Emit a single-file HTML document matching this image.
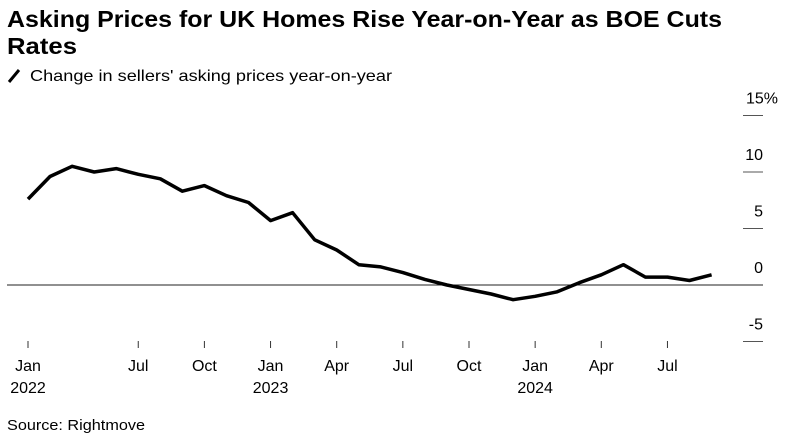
<!DOCTYPE html>
<html><head><meta charset="utf-8">
<style>
body{margin:0;width:795px;height:447px;background:#fff;font-family:"Liberation Sans",Arial,sans-serif;overflow:hidden}
svg{position:absolute;left:0;top:0}
</style></head>
<body>
<svg width="795" height="447">
<text x="7" y="27" font-size="23.5" font-weight="bold" fill="#000" textLength="715" lengthAdjust="spacingAndGlyphs">Asking Prices for UK Homes Rise Year-on-Year as BOE Cuts</text>
<text x="7" y="54" font-size="23.5" font-weight="bold" fill="#000" textLength="70" lengthAdjust="spacingAndGlyphs">Rates</text>
<line x1="9" y1="82" x2="19" y2="70" stroke="#000" stroke-width="3"/>
<text x="30" y="81" font-size="16" fill="#000" textLength="362" lengthAdjust="spacingAndGlyphs">Change in sellers' asking prices year-on-year</text>
<g id="yaxis"></g><g id="xaxis"></g>
<line x1="7" y1="285" x2="763" y2="285" stroke="#222" stroke-width="1"/>
<path id="series" fill="none" stroke="#000" stroke-width="3.5" stroke-linejoin="round"/>
<text x="7" y="430" font-size="15" fill="#000" textLength="138" lengthAdjust="spacingAndGlyphs">Source: Rightmove</text>
</svg>
<script>
const values=[7.6,9.6,10.5,10.0,10.3,9.8,9.4,8.3,8.8,7.9,7.3,5.7,6.4,4.0,3.1,1.8,1.6,1.1,0.5,0.0,-0.4,-0.8,-1.3,-1.0,-0.6,0.2,0.9,1.8,0.7,0.7,0.4,0.9];
const yTicks=[15,10,5,0,-5];
const xTickIdx=[0,5,8,11,14,17,20,23,26,29];
const xTickLabels=["Jan","Jul","Oct","Jan","Apr","Jul","Oct","Jan","Apr","Jul"];
const yearLabels=["2022","","","2023","","","","2024","",""];
const NS="http://www.w3.org/2000/svg";
const x=i=>28+i*22.05;
const y=v=>285-v*11.3;
const ya=document.getElementById('yaxis');
yTicks.forEach(t=>{
 const l=document.createElementNS(NS,'line');
 l.setAttribute('x1',743);l.setAttribute('x2',763);l.setAttribute('y1',y(t));l.setAttribute('y2',y(t));
 l.setAttribute('stroke','#555');l.setAttribute('stroke-width',1);
 
 
 ya.appendChild(l);
 const tx=document.createElementNS(NS,'text');
 tx.setAttribute('x',t===15?778:763);tx.setAttribute('y',y(t)-12);tx.setAttribute('text-anchor','end');
 tx.setAttribute('font-size','16');
 tx.textContent=t===15?'15%':String(t);
 
 
 ya.appendChild(tx);
});
const xa=document.getElementById('xaxis');
xTickIdx.forEach((i,k)=>{
 const l=document.createElementNS(NS,'line');
 l.setAttribute('x1',x(i));l.setAttribute('x2',x(i));l.setAttribute('y1',341);l.setAttribute('y2',348);
 l.setAttribute('stroke','#333');l.setAttribute('stroke-width',1);
 
 
 xa.appendChild(l);
 const tx=document.createElementNS(NS,'text');
 tx.setAttribute('x',x(i));tx.setAttribute('y',371);tx.setAttribute('text-anchor','middle');tx.setAttribute('font-size','16');
 tx.textContent=xTickLabels[k];
 
 
 xa.appendChild(tx);
 if(yearLabels[k]){
  const ty=document.createElementNS(NS,'text');
  ty.setAttribute('x',x(i));ty.setAttribute('y',393);ty.setAttribute('text-anchor','middle');ty.setAttribute('font-size','16');
  ty.textContent=yearLabels[k];
  
  
  xa.appendChild(ty);
 }
});
document.getElementById('series').setAttribute('d',values.map((v,i)=>(i?'L':'M')+x(i).toFixed(1)+','+y(v).toFixed(1)).join(''));
</script>
</body></html>
